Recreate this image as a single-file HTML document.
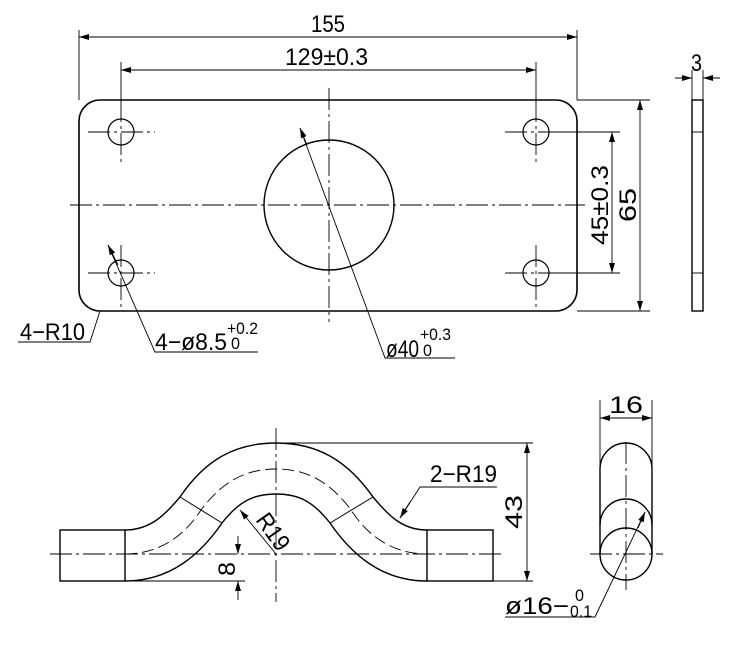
<!DOCTYPE html>
<html><head><style>body{margin:0;background:#fff}svg{display:block}text{font-family:"Liberation Sans",sans-serif;fill:#000}</style></head><body>
<svg width="736" height="648" viewBox="0 0 736 648" xmlns="http://www.w3.org/2000/svg">
<defs><marker id="a" viewBox="0 0 10 6" refX="10" refY="3" markerWidth="10" markerHeight="6" orient="auto-start-reverse" markerUnits="userSpaceOnUse"><path d="M0,0L10,3L0,6z" fill="#000"/></marker></defs>
<g fill="none" stroke="#000" stroke-width="1.2">
<rect x="79" y="100" width="498" height="211" rx="21" stroke-width="1.6"/>
<circle cx="329" cy="205" r="65" stroke-width="1.4"/>
<circle cx="121" cy="132" r="13"/><circle cx="536" cy="132" r="13"/>
<circle cx="121" cy="273" r="13"/><circle cx="536" cy="273" r="13"/>
</g>
<g fill="none" stroke="#000" stroke-width="0.9" stroke-dasharray="22,4,3,4">
<line x1="70" y1="205" x2="585" y2="205"/>
<line x1="329" y1="88" x2="329" y2="322"/>
<line x1="88" y1="132" x2="155" y2="132"/><line x1="505" y1="132" x2="580" y2="132"/>
<line x1="88" y1="273" x2="155" y2="273"/><line x1="505" y1="273" x2="580" y2="273"/>
<line x1="121" y1="100" x2="121" y2="165"/><line x1="121" y1="245" x2="121" y2="311"/>
<line x1="536" y1="100" x2="536" y2="165"/><line x1="536" y1="245" x2="536" y2="311"/>
</g>
<g fill="none" stroke="#000" stroke-width="0.9">
<line x1="79" y1="30" x2="79" y2="100"/><line x1="577" y1="30" x2="577" y2="100"/>
<line x1="79" y1="37" x2="577" y2="37" marker-start="url(#a)" marker-end="url(#a)"/>
<line x1="121" y1="62" x2="121" y2="100"/><line x1="536" y1="62" x2="536" y2="100"/>
<line x1="121" y1="70" x2="536" y2="70" marker-start="url(#a)" marker-end="url(#a)"/>
<line x1="577" y1="100" x2="650" y2="100"/><line x1="577" y1="311" x2="650" y2="311"/>
<line x1="640" y1="100" x2="640" y2="311" marker-start="url(#a)" marker-end="url(#a)"/>
<line x1="550" y1="132" x2="620" y2="132"/><line x1="550" y1="273" x2="620" y2="273"/>
<line x1="612" y1="132" x2="612" y2="273" marker-start="url(#a)" marker-end="url(#a)"/>
<rect x="692" y="100" width="11" height="211" stroke-width="1.4"/>
<line x1="692" y1="132" x2="703" y2="132"/><line x1="692" y1="273" x2="703" y2="273"/>
<line x1="692" y1="70" x2="692" y2="100"/><line x1="703" y1="70" x2="703" y2="100"/>
<line x1="675" y1="78" x2="692" y2="78" marker-end="url(#a)"/><line x1="720" y1="78" x2="703" y2="78" marker-end="url(#a)"/>
<polyline points="18,342 90,342 100,311"/>
<polyline points="108,245 155,352 258,352"/><line x1="108" y1="245" x2="118" y2="265" marker-start="url(#a)"/>
<polyline points="300,128 385,358 455,358"/><line x1="300" y1="128" x2="307" y2="145" marker-start="url(#a)"/>
</g>
<g font-size="24">
<text x="311" y="32" textLength="34" lengthAdjust="spacingAndGlyphs">155</text>
<text x="285" y="65" textLength="83" lengthAdjust="spacingAndGlyphs">129±0.3</text>
<text x="691" y="71" textLength="11" lengthAdjust="spacingAndGlyphs">3</text>
<text transform="translate(636,222) rotate(-90)" textLength="34" lengthAdjust="spacingAndGlyphs">65</text>
<text transform="translate(608,245) rotate(-90)" textLength="80" lengthAdjust="spacingAndGlyphs">45±0.3</text>
<text x="20" y="340" textLength="65" lengthAdjust="spacingAndGlyphs">4−R10</text>
<text x="155" y="350" textLength="72" lengthAdjust="spacingAndGlyphs">4−ø8.5</text>
<text x="386" y="357" textLength="33" lengthAdjust="spacingAndGlyphs">ø40</text>
<text x="505" y="614" textLength="64" lengthAdjust="spacingAndGlyphs">ø16−</text>
<text x="430" y="482" textLength="67" lengthAdjust="spacingAndGlyphs">2−R19</text>
<text transform="translate(522,529) rotate(-90)" textLength="34" lengthAdjust="spacingAndGlyphs">43</text>
<text transform="translate(235,576) rotate(-90)" textLength="14" lengthAdjust="spacingAndGlyphs">8</text>
<text transform="translate(255,520) rotate(55)" textLength="40" lengthAdjust="spacingAndGlyphs">R19</text>
<text x="609" y="413" textLength="34" lengthAdjust="spacingAndGlyphs">16</text>
</g>
<g font-size="17">
<text x="227" y="334" textLength="31" lengthAdjust="spacingAndGlyphs">+0.2</text><text x="231" y="349" textLength="9" lengthAdjust="spacingAndGlyphs">0</text>
<text x="420" y="340" textLength="31" lengthAdjust="spacingAndGlyphs">+0.3</text><text x="423" y="356" textLength="9" lengthAdjust="spacingAndGlyphs">0</text>
<text x="575" y="601" textLength="9" lengthAdjust="spacingAndGlyphs">0</text><text x="570" y="617" textLength="22" lengthAdjust="spacingAndGlyphs">0.1</text>
</g>
<g fill="none" stroke="#000" stroke-width="1.4">
<rect x="60" y="530" width="65" height="51"/><rect x="427" y="530" width="66" height="51"/>
<path d="M125,530 C150,530 165,515 180,497 C205,460 235,443 276,443 C317,443 347,460 373,497 C388,515 402,530 427,530"/>
<path d="M125,581 C170,581 200,555 222,523 C240,500 255,494 276,494 C297,494 312,500 330,523 C352,555 382,581 427,581"/>
<line x1="180" y1="497" x2="222" y2="523" stroke-width="1"/><line x1="373" y1="497" x2="330" y2="523" stroke-width="1"/>
<path d="M600,554 L600,469 A26,26 0 0 1 652,469 L652,554"/>
<path d="M600,525 A26,26 0 0 1 652,525"/>
<circle cx="626" cy="554" r="26"/>
</g>
<g fill="none" stroke="#000" stroke-width="0.9" stroke-dasharray="12,5">
<path d="M125,554 C160,554 185,535 201,510 C222,482 245,469 276,469 C307,469 330,482 351,510 C367,535 392,554 427,554"/>
</g>
<g fill="none" stroke="#000" stroke-width="0.9" stroke-dasharray="22,4,3,4">
<line x1="50" y1="554" x2="505" y2="554"/>
<line x1="276" y1="428" x2="276" y2="602"/>
<line x1="590" y1="554" x2="663" y2="554"/>
<line x1="626" y1="442" x2="626" y2="590"/>
</g>
<g fill="none" stroke="#000" stroke-width="0.9">
<line x1="276" y1="443" x2="533" y2="443"/><line x1="427" y1="581" x2="533" y2="581"/>
<line x1="527" y1="443" x2="527" y2="581" marker-start="url(#a)" marker-end="url(#a)"/>
<line x1="125" y1="581" x2="245" y2="581"/>
<line x1="238" y1="536" x2="238" y2="554" marker-end="url(#a)"/>
<line x1="238" y1="600" x2="238" y2="581" marker-end="url(#a)"/>
<line x1="276" y1="554" x2="240" y2="510" marker-end="url(#a)"/>
<polyline points="497,487 420,487 400,518"/><line x1="410" y1="502" x2="400" y2="518" marker-end="url(#a)"/>
<line x1="600" y1="400" x2="600" y2="470"/><line x1="652" y1="400" x2="652" y2="470"/>
<line x1="600" y1="418" x2="652" y2="418" marker-start="url(#a)" marker-end="url(#a)"/>
<polyline points="645,512 595,617 505,617"/><line x1="645" y1="512" x2="638" y2="528" marker-start="url(#a)"/>
</g>
</svg>
</body></html>
